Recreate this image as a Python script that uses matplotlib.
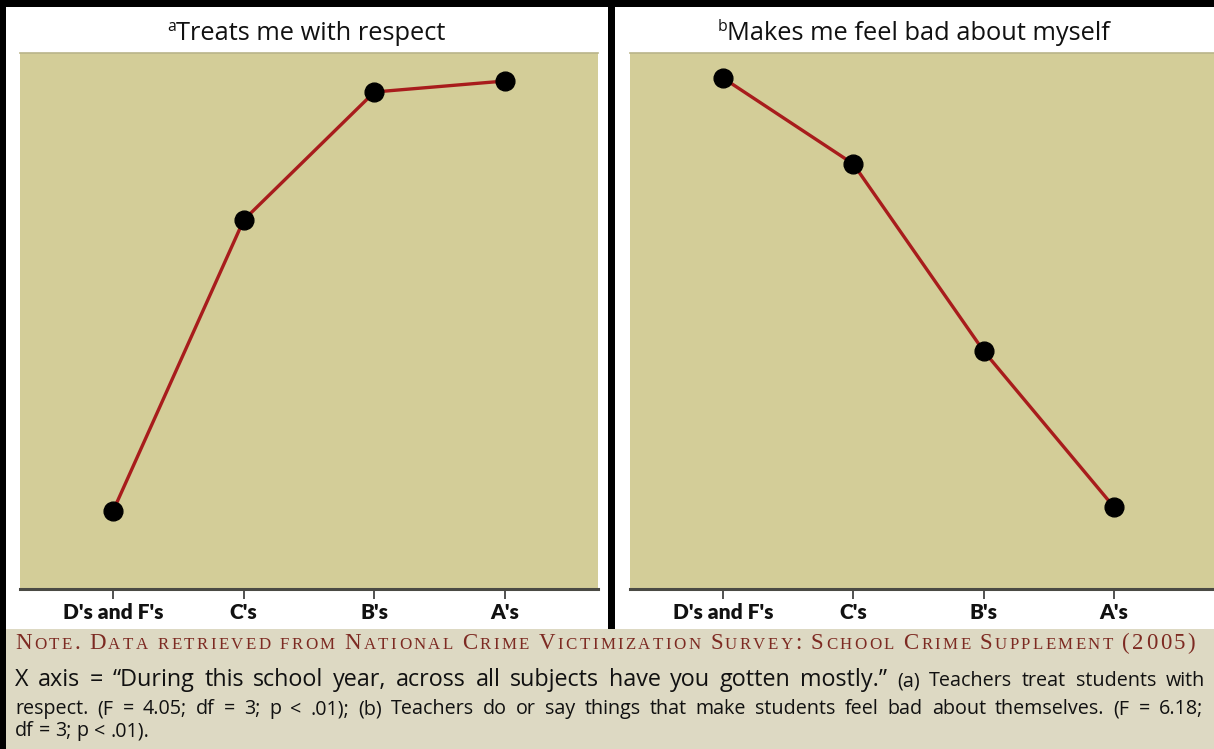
import matplotlib
matplotlib.use("Agg")
import matplotlib.pyplot as plt
from matplotlib.patches import Rectangle

categories = ["D's and F's", "C's", "B's", "A's"]
respect = [0.78, 3.69, 4.97, 5.08]
feel_bad = [5.11, 4.25, 2.38, 0.82]
panel_titles = [("a", "Treats me with respect"), ("b", "Makes me feel bad about myself")]

note_head = "Note. Data retrieved from National Crime Victimization Survey: School Crime Supplement (2005)"
note_lead = "X axis = \u201cDuring this school year, across all subjects have you gotten mostly.\u201d"
note_tail = "(a) Teachers treat students with"
note_line2 = ("respect. (F = 4.05; df = 3; p < .01); (b) Teachers do or say things that make "
              "students feel bad about themselves. (F = 6.18;")
note_line3 = "df = 3; p < .01)."

W, H = 1214, 749
PLOT_BG = "#d3cd98"
NOTE_BG = "#ddd9c3"
LINE_RED = "#a81c1c"
HEAD_RED = "#7d2a22"
SANS = ["Open Sans", "DejaVu Sans"]
TICK_FONT = ["Lato", "DejaVu Sans"]
SERIF = ["Liberation Serif", "DejaVu Serif"]

fig = plt.figure(figsize=(W / 100, H / 100), dpi=100, facecolor="black")
renderer = fig.canvas.get_renderer()


def box(x0, y0, x1, y1):
    # pixel box (top-left origin) -> figure fraction rect
    return [x0 / W, 1 - y1 / H, (x1 - x0) / W, (y1 - y0) / H]


def rect(x0, y0, x1, y1, color):
    l, b, w, h = box(x0, y0, x1, y1)
    fig.add_artist(Rectangle((l, b), w, h, transform=fig.transFigure,
                             facecolor=color, edgecolor="none", zorder=-5))


def text_width(s, size, props):
    t = fig.text(0, 0, s, fontsize=size, **props)
    w = t.get_window_extent(renderer).width
    t.remove()
    return w


def space_width(size, props):
    return text_width("x x", size, props) - text_width("xx", size, props)


def draw_runs(runs, x, y, ha="left", target=None):
    # runs: (text, size, raise_px, props, gap_weight)
    # with a target width the leftover room is shared out by gap weight,
    # like justified text; without one, a weight > 0 means a normal space
    widths = [text_width(s, size, p) for s, size, dy, p, g in runs]
    gaps = [r[4] for r in runs][:-1] + [0]
    if target is not None and sum(gaps):
        unit = (target - sum(widths)) / sum(gaps)
        steps = [unit * g for g in gaps]
    else:
        steps = [space_width(r[1], r[3]) if g else 0 for r, g in zip(runs, gaps)]
    if ha == "center":
        x -= (sum(widths) + sum(steps)) / 2
    for (s, size, dy, props, g), w, step in zip(runs, widths, steps):
        fig.text(x / W, 1 - (y - dy) / H, s, fontsize=size, va="baseline",
                 ha="left", **props)
        x += w + step


def small_caps_runs(s, big, small, props, word_gap=4):
    # one run per letter, lower case drawn as smaller capitals
    runs = []
    for word in s.split(" "):
        for ch in word:
            runs.append((ch.upper(), small if ch.islower() else big, 0, props, 1))
        runs[-1] = runs[-1][:4] + (word_gap,)
    return runs


def word_runs(s, size, props):
    return [(w, size, 0, props, 1) for w in s.split(" ")]


# backgrounds
rect(6, 7, 608, 629, "white")
rect(615, 7, W, 629, "white")
rect(6, 629, W, H, NOTE_BG)

panels = [
    (box(20, 53, 598, 589), respect, (-0.712, 3.711), 306),
    (box(630, 53, W, 589), feel_bad, (-0.714, 3.768), 914),
]

tprops = {"family": SANS, "color": "#111111"}
title_size = 16 * 270 / text_width(panel_titles[0][1], 16, tprops)

for (pos, values, xlim, cx), (sup, title) in zip(panels, panel_titles):
    ax = fig.add_axes(pos)
    ax.set_facecolor(PLOT_BG)
    x = range(len(categories))
    ax.plot(x, values, color=LINE_RED, lw=2.4, zorder=2)
    ax.plot(x, values, "o", color="black", ms=13.5, zorder=3)
    ax.set_xlim(*xlim)
    ax.set_ylim(0, 5.36)
    ax.set_xticks(list(x))
    ax.set_xticklabels(categories, fontfamily=TICK_FONT, fontweight="heavy", fontsize=15)
    ax.set_yticks([])
    for side in ["left", "right"]:
        ax.spines[side].set_visible(False)
    ax.spines["top"].set_color("#b9b48a")
    ax.spines["top"].set_linewidth(1.2)
    ax.spines["bottom"].set_color("#4a4a44")
    ax.spines["bottom"].set_linewidth(2.2)
    ax.tick_params(axis="x", direction="out", length=7, width=1.2,
                   color="#333333", pad=3, labelcolor="#111111")

    draw_runs([(sup, title_size * 0.62, 9, tprops, 0), (title, title_size, 0, tprops, 0)],
              cx, 40, ha="center")

# note box: small caps heading, letters spread over the width
hprops = {"family": SERIF, "color": HEAD_RED}
draw_runs(small_caps_runs(note_head, 16.5, 12.2, hprops), 15, 649, target=1180)

bprops = {"family": SANS, "color": "#111111"}
draw_runs(word_runs(note_lead, 16.8, bprops) + word_runs(note_tail, 14.2, bprops),
          15, 686, target=1190)
draw_runs(word_runs(note_line2, 14.2, bprops), 15, 714, target=1188)
draw_runs(word_runs(note_line3, 14.2, bprops), 15, 736)

fig.savefig("out.png", dpi=100, facecolor=fig.get_facecolor())
